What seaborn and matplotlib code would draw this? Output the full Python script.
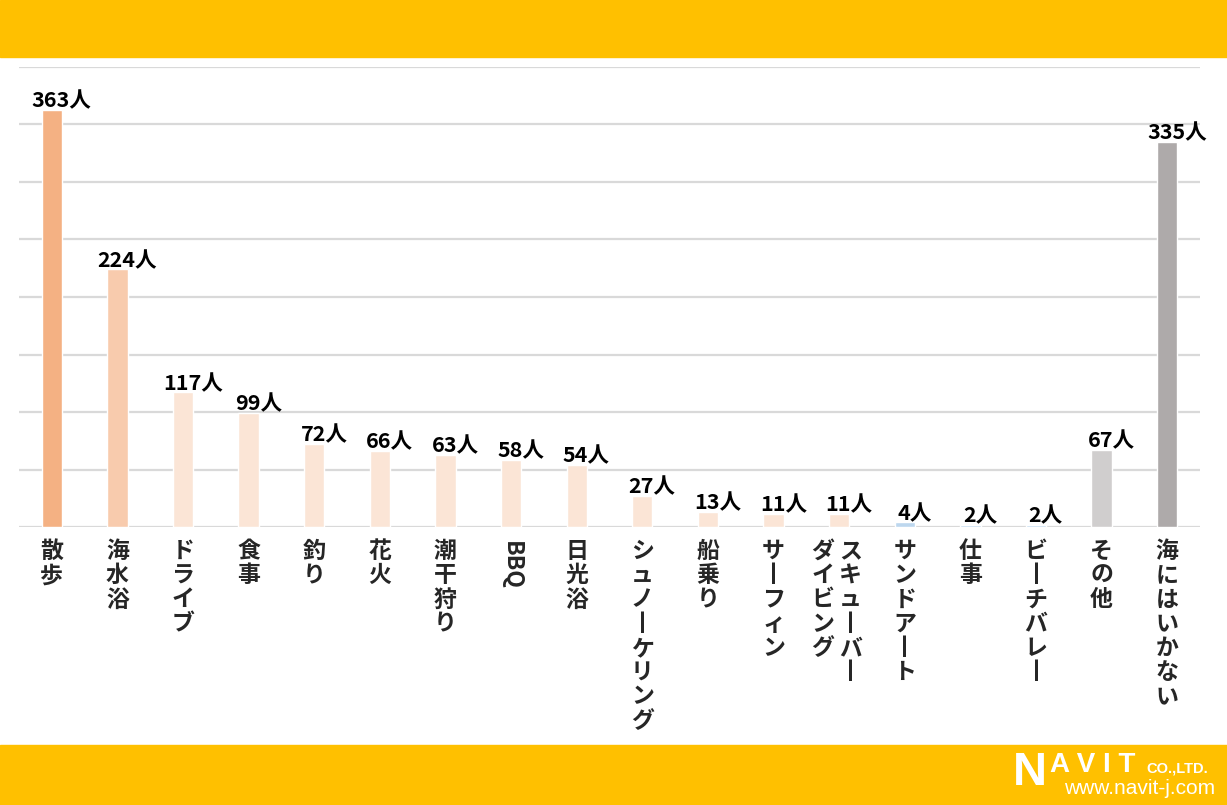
import matplotlib
matplotlib.use("Agg")
import matplotlib.pyplot as plt
import matplotlib.transforms as mtransforms
import seaborn as sns
import pandas as pd

# データ
categories = ["散歩", "海水浴", "ドライブ", "食事", "釣り", "花火", "潮干狩り", "BBQ", "日光浴",
              "シュノーケリング", "船乗り", "サーフィン", "スキューバーダイビング", "サンドアート",
              "仕事", "ビーチバレー", "その他", "海にはいかない"]
values = [363, 224, 117, 99, 72, 66, 63, 58, 54, 27, 13, 11, 11, 4, 2, 2, 67, 335]
bar_colors = ["#F4B183", "#F8CBAD"] + ["#FBE5D6"] * 11 + ["#BDD7EE"] * 3 + ["#D0CECE", "#AEAAAA"]
# 縦書きラベル(列ごと)
label_columns = {12: ["ダイビング", "スキューバー"]}
rotated_labels = ["BBQ"]

sns.set_theme(style="white")
plt.rcParams['font.family'] = ['Noto Sans CJK JP', 'DejaVu Sans']

df = pd.DataFrame({"cat": categories, "val": values})

fig = plt.figure(figsize=(12.27, 8.05), dpi=100)
ax = fig.add_axes([19 / 1227, 1 - 527 / 805, (1200 - 19) / 1227, (527 - 67) / 805])

sns.barplot(data=df, x="cat", y="val", hue="cat", palette=bar_colors, width=0.31,
            legend=False, ax=ax, saturation=1)

ax.set_ylim(0, 400)
ax.set_xlim(-0.5, len(categories) - 0.5)
ax.set_yticks(range(0, 401, 50))
ax.yaxis.grid(True, color="#D9D9D9", linewidth=1.6)
ax.set_axisbelow(True)
for s in ["top", "right", "left", "bottom"]:
    ax.spines[s].set_visible(False)
ax.tick_params(left=False, bottom=False, labelleft=False, labelbottom=False)
ax.set_xlabel("")
ax.set_ylabel("")

# 値ラベル
for i, v in enumerate(values):
    ax.annotate(f"{v}人", (i, v), xytext=(7, -1), textcoords="offset points",
                ha="center", va="bottom", fontsize=15.5, fontweight="bold", color="black")

# 縦書きカテゴリラベル
def tate(s):
    return "\n".join(s.replace("ー", "丨"))

trans = mtransforms.blended_transform_factory(ax.transData, ax.transAxes)
lab_kw = dict(transform=trans, ha="center", va="top", fontsize=16.5, linespacing=1.07,
              fontweight="bold")
for i, c in enumerate(categories):
    if i in label_columns:
        left, right = label_columns[i]
        ax.text(i - 0.25, -0.028, tate(left), **lab_kw)
        ax.text(i + 0.17, -0.028, tate(right), **lab_kw)
    elif c in rotated_labels:
        ax.text(i, -0.03, c, rotation=-90, **lab_kw)
    else:
        ax.text(i, -0.028, tate(c), **lab_kw)

# ヘッダー・フッターの帯
fig.patches.append(plt.Rectangle((0, 1 - 57 / 805), 1, 57 / 805, transform=fig.transFigure,
                                 color="#FFC000", zorder=0))
fig.patches.append(plt.Rectangle((0, 0), 1, 60 / 805, transform=fig.transFigure,
                                 color="#FFC000", zorder=0))

# ロゴ
fig.text(1013 / 1227, 1 - 773 / 805, "N", fontsize=34, fontweight="bold", color="white",
         family="Liberation Sans", va="center", ha="left")
fig.text(1050 / 1227, 1 - 765 / 805, "A V I T", fontsize=20, fontweight="bold", color="white",
         family="Liberation Sans", va="center", ha="left")
fig.text(1146 / 1227, 1 - 768 / 805, "CO.,LTD.", fontsize=10.5, fontweight="bold", color="white",
         family="Liberation Sans", va="center", ha="left")
fig.text(1064 / 1227, 1 - 788 / 805, "www.navit-j.com", fontsize=15, color="white",
         family="Liberation Sans", va="center", ha="left")

fig.savefig("out.png", dpi=100, facecolor="white")
